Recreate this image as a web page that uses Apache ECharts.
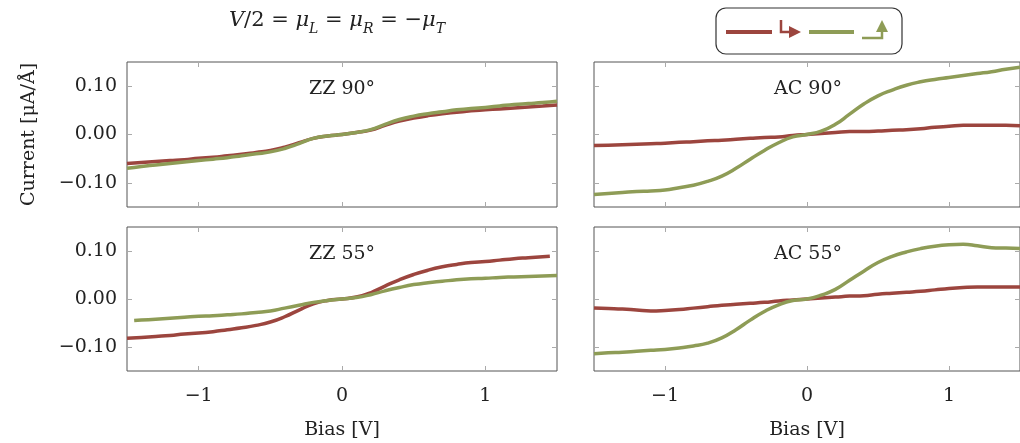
<!DOCTYPE html>
<html>
<head>
<meta charset="utf-8">
<script src="https://cdn.jsdelivr.net/npm/echarts@6/dist/echarts.min.js"></script>
<style>
html,body{margin:0;padding:0;background:#fff;}
#chart{width:1020px;height:443px;}
</style>
</head>
<body>
<div id="chart"></div>
<script>
// ---------- data ----------
const biasFull = [-1.5,-1.4,-1.3,-1.2,-1.1,-1.0,-0.9,-0.8,-0.7,-0.6,-0.5,-0.4,-0.3,-0.2,-0.1,0,0.1,0.2,0.3,0.4,0.5,0.6,0.7,0.8,0.9,1.0,1.1,1.2,1.3,1.4,1.5];
const biasZZ55Red = [-1.5,-1.4,-1.3,-1.2,-1.1,-1.0,-0.9,-0.8,-0.7,-0.6,-0.5,-0.4,-0.3,-0.2,-0.1,0,0.1,0.2,0.3,0.4,0.5,0.6,0.7,0.8,0.9,1.0,1.1,1.2,1.3,1.4,1.45];
const biasZZ55Green = [-1.45,-1.4,-1.3,-1.2,-1.1,-1.0,-0.9,-0.8,-0.7,-0.6,-0.5,-0.4,-0.3,-0.2,-0.1,0,0.1,0.2,0.3,0.4,0.5,0.6,0.7,0.8,0.9,1.0,1.1,1.2,1.3,1.4,1.5];

const zz90Red   = [-0.060,-0.058,-0.056,-0.054,-0.052,-0.049,-0.047,-0.044,-0.041,-0.037,-0.033,-0.026,-0.017,-0.008,-0.003,0,0.004,0.009,0.019,0.028,0.034,0.039,0.043,0.046,0.049,0.051,0.053,0.055,0.057,0.059,0.061];
const zz90Green = [-0.070,-0.066,-0.063,-0.060,-0.057,-0.054,-0.051,-0.048,-0.044,-0.040,-0.036,-0.029,-0.019,-0.008,-0.003,0,0.004,0.010,0.021,0.031,0.038,0.043,0.047,0.051,0.054,0.056,0.059,0.062,0.064,0.066,0.069];
const ac90Red   = [-0.023,-0.022,-0.021,-0.020,-0.019,-0.018,-0.016,-0.015,-0.013,-0.012,-0.010,-0.008,-0.006,-0.005,-0.002,0,0.002,0.004,0.006,0.006,0.007,0.009,0.010,0.012,0.015,0.017,0.019,0.019,0.019,0.019,0.018];
const ac90Green = [-0.124,-0.122,-0.120,-0.118,-0.117,-0.115,-0.110,-0.105,-0.097,-0.086,-0.070,-0.051,-0.033,-0.017,-0.005,0,0.007,0.021,0.042,0.063,0.080,0.092,0.102,0.109,0.114,0.118,0.122,0.126,0.130,0.135,0.139];
const zz55Red   = [-0.082,-0.080,-0.078,-0.076,-0.073,-0.071,-0.068,-0.064,-0.060,-0.055,-0.048,-0.037,-0.023,-0.010,-0.003,0,0.004,0.013,0.027,0.040,0.051,0.060,0.067,0.072,0.076,0.078,0.081,0.084,0.086,0.088,0.089];
const zz55Green = [-0.045,-0.044,-0.042,-0.040,-0.038,-0.036,-0.035,-0.033,-0.031,-0.028,-0.025,-0.019,-0.013,-0.007,-0.003,0,0.003,0.009,0.017,0.024,0.030,0.034,0.037,0.040,0.042,0.043,0.045,0.046,0.047,0.048,0.049];
const ac55Red   = [-0.019,-0.020,-0.021,-0.023,-0.025,-0.024,-0.022,-0.019,-0.016,-0.013,-0.011,-0.009,-0.007,-0.004,-0.002,0,0.002,0.004,0.006,0.007,0.010,0.012,0.014,0.016,0.019,0.022,0.024,0.025,0.025,0.025,0.025];
const ac55Green = [-0.114,-0.112,-0.111,-0.109,-0.107,-0.105,-0.102,-0.098,-0.092,-0.081,-0.064,-0.044,-0.026,-0.012,-0.003,0,0.008,0.020,0.039,0.058,0.076,0.089,0.098,0.105,0.110,0.113,0.114,0.111,0.107,0.106,0.105];

const panelTitles = ['ZZ 90°','AC 90°','ZZ 55°','AC 55°'];
const xTicks = [-1,0,1];
const yTicks = [-0.1,0,0.1];

// ---------- style ----------
const RED = '#9C453E';
const GREEN = '#8E9C56';
const FONT = 'DejaVu Serif';
const TXT = '#222';

const grids = [
  {left:127, top:62, width:430, height:145},
  {left:594, top:62, width:428, height:145},
  {left:127, top:227, width:430, height:144},
  {left:594, top:227, width:428, height:144}
];

function pairs(xs, ys){ return xs.map((x,i)=>[x, ys[i]]); }
const fmtX = v => (v<0?'\u2212':'') + Math.abs(v);
const fmtY = v => (v<-1e-9?'\u2212':'') + Math.abs(v).toFixed(2);

const tickStyle = {color:'#aaa', width:1};
const xAxes = [], yAxes = [];
grids.forEach((g,i)=>{
  const showX = i>=2, showY = (i%2===0);
  xAxes.push({
    type:'value', gridIndex:i, min:-1.5, max:1.5, position:'bottom',
    axisLine:{show:false, onZero:false}, splitLine:{show:false},
    axisTick:{show:true, inside:true, length:5, customValues:xTicks, lineStyle:tickStyle},
    axisLabel:{show:showX, customValues:xTicks, formatter:fmtX, margin:16, fontFamily:FONT, fontSize:19, color:TXT},
    name: showX ? 'Bias [V]' : '', nameLocation:'middle', nameGap:50,
    nameTextStyle:{fontFamily:FONT, fontSize:19, color:TXT}
  });
  xAxes.push({
    type:'value', gridIndex:i, min:-1.5, max:1.5, position:'top',
    axisLine:{show:false, onZero:false}, splitLine:{show:false},
    axisTick:{show:true, inside:true, length:5, customValues:xTicks, lineStyle:tickStyle},
    axisLabel:{show:false, customValues:xTicks}
  });
  yAxes.push({
    type:'value', gridIndex:i, min:-0.15, max:0.15, position:'left',
    axisLine:{show:false, onZero:false}, splitLine:{show:false},
    axisTick:{show:true, inside:true, length:5, customValues:yTicks, lineStyle:tickStyle},
    axisLabel:{show:showY, customValues:yTicks, formatter:fmtY, margin:10, fontFamily:FONT, fontSize:19, color:TXT},
    name: i===0 ? 'Current [μA/Å]' : '', nameLocation:'middle', nameGap:88,
    nameTextStyle:{fontFamily:FONT, fontSize:19, color:TXT}
  });
  yAxes.push({
    type:'value', gridIndex:i, min:-0.15, max:0.15, position:'right',
    axisLine:{show:false, onZero:false}, splitLine:{show:false},
    axisTick:{show:true, inside:true, length:5, customValues:yTicks, lineStyle:tickStyle},
    axisLabel:{show:false, customValues:yTicks}
  });
});

function line(i, xs, ys, color){
  return {
    type:'line', xAxisIndex:2*i, yAxisIndex:2*i, data:pairs(xs,ys),
    showSymbol:false, smooth:0.5, lineStyle:{color:color, width:3.5}, itemStyle:{color:color},
    silent:true, animation:false
  };
}

const series = [
  line(0, biasFull, zz90Red, RED),
  line(0, biasFull, zz90Green, GREEN),
  line(1, biasFull, ac90Red, RED),
  line(1, biasFull, ac90Green, GREEN),
  line(2, biasZZ55Red, zz55Red, RED),
  line(2, biasZZ55Green, zz55Green, GREEN),
  line(3, biasFull, ac55Red, RED),
  line(3, biasFull, ac55Green, GREEN)
];

const panelCenters = [342, 808, 342, 808];
const titleGraphics = panelTitles.map((t,i)=>({
  type:'text', x: panelCenters[i], y: grids[i].top + 27,
  style:{text:t, fontFamily:FONT, fontSize:19, fill:TXT, align:'center', verticalAlign:'middle'}
}));

const legendGraphic = {
  type:'group',
  children:[
    {type:'rect', shape:{x:716, y:8, width:186, height:46, r:10}, style:{fill:'#fff', stroke:'#333', lineWidth:1.2}},
    {type:'line', shape:{x1:726,y1:32,x2:772,y2:32}, style:{stroke:RED, lineWidth:4}},
    {type:'polyline', shape:{points:[[781,20],[781,32],[790,32]]}, style:{stroke:RED, lineWidth:2.5, fill:null}},
    {type:'polygon', shape:{points:[[789,26],[801,32],[789,38]]}, style:{fill:RED}},
    {type:'line', shape:{x1:809,y1:32,x2:854,y2:32}, style:{stroke:GREEN, lineWidth:4}},
    {type:'polyline', shape:{points:[[862,38],[882,38],[882,31]]}, style:{stroke:GREEN, lineWidth:2.5, fill:null}},
    {type:'polygon', shape:{points:[[876,32],[882,20],[888,32]]}, style:{fill:GREEN}}
  ]
};

const mainTitle = {
  type:'text', x:337, y:21,
  style:{
    text:'{it|V}{n|/2 = }{it|μ}{sub|L}{n| = }{it|μ}{sub|R}{n| = \u2212}{it|μ}{sub|T}',
    align:'center', verticalAlign:'middle',
    rich:{
      it:{fontFamily:FONT, fontStyle:'italic', fontSize:21, fill:TXT, lineHeight:30},
      n:{fontFamily:FONT, fontSize:21, fill:TXT, lineHeight:30},
      sub:{fontFamily:FONT, fontStyle:'italic', fontSize:14, fill:TXT, lineHeight:30, verticalAlign:'bottom'}
    }
  }
};

const chart = echarts.init(document.getElementById('chart'), null, {renderer:'canvas'});
chart.setOption({
  backgroundColor:'#fff',
  animation:false,
  grid: grids.map(g=>Object.assign({show:true, borderColor:'#555', borderWidth:1, backgroundColor:'transparent'}, g)),
  xAxis:xAxes,
  yAxis:yAxes,
  series:series,
  graphic:[mainTitle, legendGraphic].concat(titleGraphics)
});
</script>
</body>
</html>
